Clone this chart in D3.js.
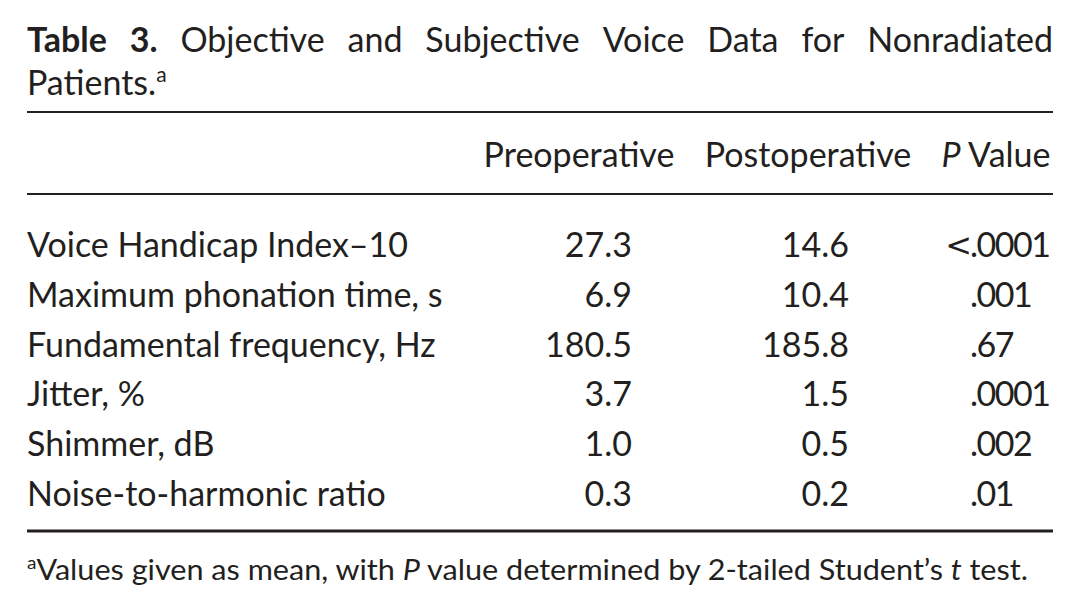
<!DOCTYPE html>
<html>
<head>
<meta charset="utf-8">
<script src="https://cdn.jsdelivr.net/npm/d3@7"></script>
<style>
  body { margin: 0; background: #fff; }
  text { font-family: Lato, "Open Sans", sans-serif; fill: #231f20; }
</style>
</head>
<body>
<svg id="drawing_region"></svg>
<script>
// table content
const titleBold = ["Table", "3."];
const titleWords = ["Objective", "and", "Subjective", "Voice", "Data", "for", "Nonradiated"];
const columns = ["Preoperative", "Postoperative", "P Value"];
const rowLabels = [
    "Voice Handicap Index\u201310",
    "Maximum phonation time, s",
    "Fundamental frequency, Hz",
    "Jitter, %",
    "Shimmer, dB",
    "Noise-to-harmonic ratio"
];
const preValues = [27.3, 6.9, 180.5, 3.7, 1.0, 0.3];
const postValues = [14.6, 10.4, 185.8, 1.5, 0.5, 0.2];
const pValues = ["<.0001", ".001", ".67", ".0001", ".002", ".01"];

const W = 1080, H = 614;
const left = 27, right = 1053;
const fs = 34;

const svg = d3.select('#drawing_region')
    .attr('width', W)
    .attr('height', H);

// title, justified over the full width
const allWords = titleBold.map(w => ({w: w, bold: true}))
    .concat(titleWords.map(w => ({w: w, bold: false})));
const words = svg.append('g').selectAll('text.word')
    .data(allWords)
    .enter()
    .append('text')
    .attr('class', 'word')
    .attr('y', 52)
    .attr('font-size', fs)
    .attr('font-weight', d => d.bold ? 'bold' : 'normal')
    .text(d => d.w);
const widths = [];
words.each(function() { widths.push(this.getComputedTextLength()); });
const gap = (right - left - d3.sum(widths)) / (allWords.length - 1);
let cx = left;
words.each(function(d, i) {
    d3.select(this).attr('x', cx);
    cx += widths[i] + gap;
});
const t2 = svg.append('text')
    .attr('x', left).attr('y', 95)
    .attr('font-size', fs);
t2.append('tspan').text('Patients.');
t2.append('tspan').attr('font-size', 21).attr('dy', -13).text('a');

// rules
const rules = [{y: 112, w: 2}, {y: 194, w: 2}, {y: 531, w: 3}];
svg.selectAll('line.rule')
    .data(rules)
    .enter()
    .append('line')
    .attr('class', 'rule')
    .attr('x1', left).attr('x2', right)
    .attr('y1', d => d.y).attr('y2', d => d.y)
    .attr('stroke', '#231f20')
    .attr('stroke-width', d => d.w);

// header
const headerX = d3.scaleOrdinal().domain(columns).range([579, 808, 996]);
const header = svg.selectAll('text.head')
    .data(columns)
    .enter()
    .append('text')
    .attr('class', 'head')
    .attr('x', d => headerX(d))
    .attr('y', 167)
    .attr('font-size', fs)
    .attr('text-anchor', 'middle');
header.each(function(d) {
    const s = d3.select(this);
    if (d.startsWith('P ')) {
        s.append('tspan').attr('font-style', 'italic').text('P');
        s.append('tspan').text(d.slice(1));
    } else {
        s.text(d);
    }
});

// rows
const yscale = d3.scalePoint()
    .domain(d3.range(rowLabels.length))
    .range([257, 506]);

svg.selectAll('text.label')
    .data(rowLabels)
    .enter()
    .append('text')
    .attr('class', 'label')
    .attr('x', left)
    .attr('y', (d, i) => yscale(i))
    .attr('font-size', fs)
    .text(d => d);

const fmt = d3.format('.1f');
svg.selectAll('text.pre')
    .data(preValues)
    .enter()
    .append('text')
    .attr('class', 'pre')
    .attr('x', 632)
    .attr('y', (d, i) => yscale(i))
    .attr('font-size', fs)
    .attr('text-anchor', 'end')
    .text(d => fmt(d));

svg.selectAll('text.post')
    .data(postValues)
    .enter()
    .append('text')
    .attr('class', 'post')
    .attr('x', 849)
    .attr('y', (d, i) => yscale(i))
    .attr('font-size', fs)
    .attr('text-anchor', 'end')
    .text(d => fmt(d));

// P values aligned on the decimal point
const pg = svg.selectAll('g.pval')
    .data(pValues)
    .enter()
    .append('g')
    .attr('class', 'pval');
pg.append('text')
    .attr('x', 970)
    .attr('y', (d, i) => yscale(i))
    .attr('font-size', fs)
    .attr('letter-spacing', -1.5)
    .text(d => d.slice(d.indexOf('.')));
pg.append('text')
    .attr('x', 972)
    .attr('y', (d, i) => yscale(i) - 1)
    .attr('font-size', 32)
    .style('font-family', '"DejaVu Sans ExtraLight", "DejaVu Sans", sans-serif')
    .attr('text-anchor', 'end')
    .text(d => d.slice(0, d.indexOf('.')));

// footnote
const foot = svg.append('text')
    .attr('x', left)
    .attr('y', 580)
    .attr('font-size', 29)
    .attr('textLength', 1001)
    .attr('lengthAdjust', 'spacingAndGlyphs');
foot.append('tspan').attr('font-size', 18).attr('dy', -11).text('a');
foot.append('tspan').attr('dy', 11).text('Values given as mean, with ');
foot.append('tspan').attr('font-style', 'italic').text('P');
foot.append('tspan').text(' value determined by 2-tailed Student\u2019s ');
foot.append('tspan').attr('font-style', 'italic').text('t');
foot.append('tspan').text(' test.');
</script>
</body>
</html>
